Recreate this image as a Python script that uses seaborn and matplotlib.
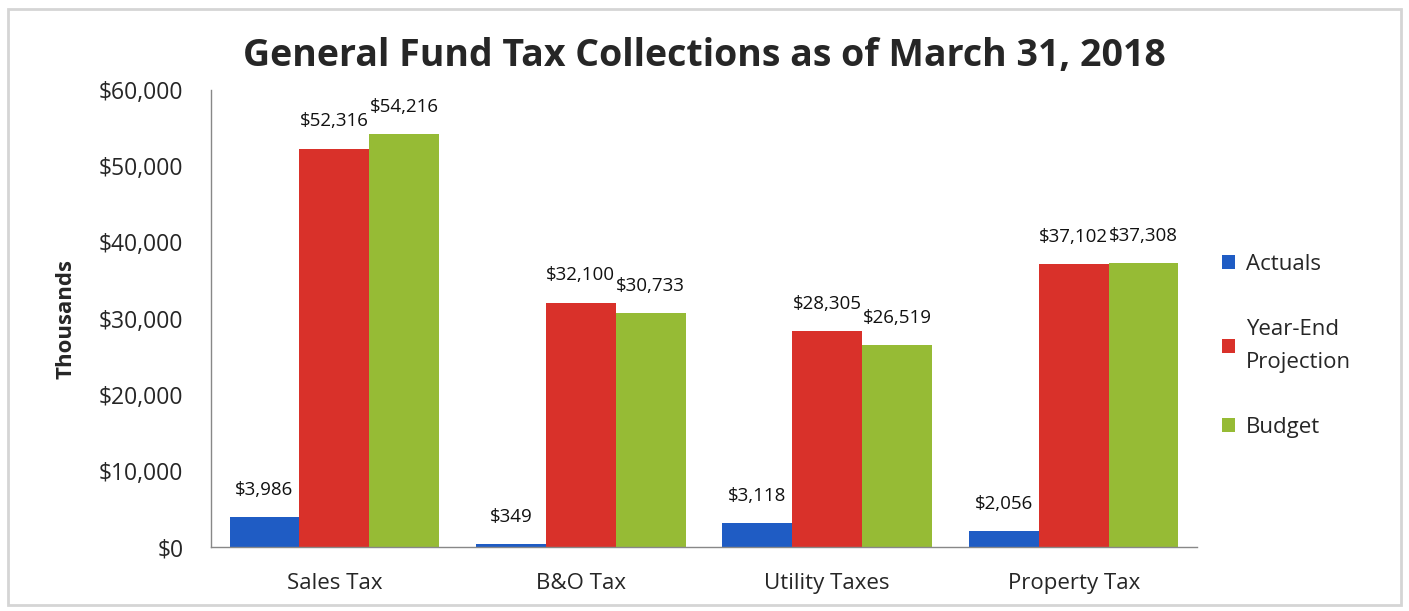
import pandas as pd
import numpy as np
import matplotlib
matplotlib.use('Agg')
import matplotlib.pyplot as plt
import seaborn as sns
from matplotlib.patches import Rectangle

# dados (milhares de dólares)
categories = ['Sales Tax', 'B&O Tax', 'Utility Taxes', 'Property Tax']
series_names = ['Actuals', 'Year-End\nProjection', 'Budget']
actuals = [3986, 349, 3118, 2056]
year_end_projection = [52316, 32100, 28305, 37102]
budget = [54216, 30733, 26519, 37308]
y_ticks = [0, 10000, 20000, 30000, 40000, 50000, 60000]
colors = ['#1f5cc4', '#d9312a', '#96bb35']

df = pd.DataFrame({
    'Category': categories * 3,
    'Series': [series_names[0]] * 4 + [series_names[1]] * 4 + [series_names[2]] * 4,
    'Value': actuals + year_end_projection + budget,
})

sns.set_style('white')
plt.rcParams['font.family'] = ['Open Sans', 'DejaVu Sans']

fig = plt.figure(figsize=(14.09, 6.11), dpi=100)
ax = fig.add_axes([0.1498, 0.1047, 0.6997, 0.748])

sns.barplot(data=df, x='Category', y='Value', hue='Series', palette=colors,
            width=0.85, gap=0, saturation=1, linewidth=0, ax=ax, errorbar=None)

for cont in ax.containers:
    vals = [b.get_height() for b in cont]
    ax.bar_label(cont, labels=[f'${v:,.0f}' for v in vals], padding=13,
                 fontsize=13.5, color='#111111')

ax.set_ylim(0, 60000)
ax.set_xlim(-0.5, 3.5)
ax.set_yticks(y_ticks)
ax.set_yticklabels([f'${t:,}' for t in y_ticks], fontsize=16.5)
ax.tick_params(axis='y', length=6, width=1, color='#888888', pad=14, direction='out')
ax.tick_params(axis='x', which='major', length=0, labelsize=16, pad=19)
ax.set_xticks(np.arange(-0.5, 4.0, 1.0), minor=True)
ax.tick_params(axis='x', which='minor', length=8, width=1, color='#888888', direction='out')
ax.set_xlabel('')
ax.set_ylabel('Thousands', fontsize=16, fontweight='bold', labelpad=16)

for s in ['top', 'right']:
    ax.spines[s].set_visible(False)
for s in ['left', 'bottom']:
    ax.spines[s].set_color('#888888')
    ax.spines[s].set_linewidth(1)

handles, labels = ax.get_legend_handles_labels()
leg = ax.legend(handles, labels, loc='center left', bbox_to_anchor=(1.005, 0.44),
                frameon=False, fontsize=16, handlelength=0.6, handleheight=0.6,
                handletextpad=0.5, labelspacing=2.0)
for t in leg.get_texts():
    t.set_linespacing(1.7)

fig.suptitle('General Fund Tax Collections as of March 31, 2018',
             fontsize=27, fontweight='bold', x=0.5, y=0.94)

fig.patches.append(Rectangle((0.006, 0.01), 0.988, 0.975, transform=fig.transFigure,
                             fill=False, edgecolor='#d5d5d5', linewidth=2))

fig.savefig('out.png', dpi=100)
